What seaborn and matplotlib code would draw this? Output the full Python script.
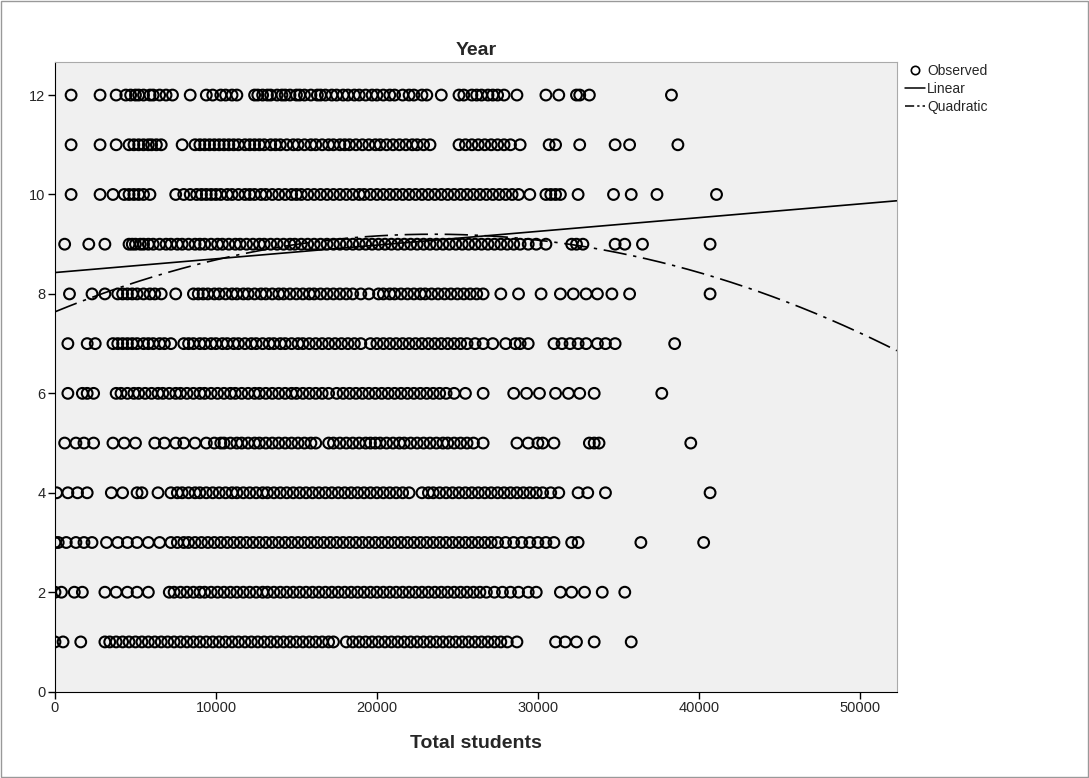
import numpy as np
import pandas as pd
import matplotlib
matplotlib.use("Agg")
import matplotlib.pyplot as plt
from matplotlib.lines import Line2D
from matplotlib.patches import Rectangle
import seaborn as sns

# Observed total students (thousands) per year
year1 = [0.0, 0.5, 1.6, 3.1, 3.4, 3.8, 4.2, 4.6, 5.0, 5.4, 5.8, 6.2, 6.6, 7.0, 7.4, 7.8, 8.2, 8.6, 9.0, 9.4, 9.8, 10.2, 10.6, 11.0, 11.4, 11.8, 12.2, 12.6, 13.0, 13.4, 13.8, 14.2, 14.6, 15.0, 15.4, 15.8, 16.2, 16.6, 17.0, 17.3, 18.1, 18.5, 18.9, 19.3, 19.7, 20.1, 20.5, 20.9, 21.3, 21.7, 22.1, 22.5, 22.9, 23.3, 23.7, 24.1, 24.5, 24.9, 25.3, 25.7, 26.1, 26.5, 26.9, 27.3, 27.7, 28.1, 28.7, 31.1, 31.7, 32.4, 33.5, 35.8]
year2 = [0.0, 0.4, 1.2, 1.7, 3.1, 3.8, 4.5, 5.1, 5.8, 7.1, 7.4, 7.8, 8.2, 8.6, 9.0, 9.3, 9.7, 10.1, 10.5, 10.9, 11.3, 11.7, 12.1, 12.5, 12.9, 13.2, 13.6, 14.0, 14.4, 14.8, 15.2, 15.6, 16.0, 16.4, 16.8, 17.2, 17.6, 18.0, 18.4, 18.8, 19.2, 19.6, 20.0, 20.4, 20.8, 21.2, 21.6, 22.0, 22.4, 22.8, 23.2, 23.6, 24.0, 24.4, 24.8, 25.2, 25.6, 26.0, 26.4, 26.8, 27.3, 27.8, 28.3, 28.8, 29.4, 29.9, 31.4, 32.1, 32.9, 34.0, 35.4]
year3 = [0.0, 0.2, 0.7, 1.3, 1.8, 2.3, 3.2, 3.9, 4.5, 5.1, 5.8, 6.5, 7.2, 7.6, 8.0, 8.3, 8.7, 9.1, 9.5, 9.9, 10.3, 10.7, 11.1, 11.5, 11.9, 12.3, 12.7, 13.1, 13.5, 13.9, 14.3, 14.7, 15.1, 15.5, 15.9, 16.3, 16.7, 17.1, 17.5, 17.9, 18.3, 18.7, 19.1, 19.5, 19.9, 20.3, 20.7, 21.1, 21.5, 21.9, 22.3, 22.7, 23.1, 23.5, 23.9, 24.3, 24.7, 25.1, 25.5, 25.9, 26.3, 26.7, 27.1, 27.5, 28.0, 28.5, 29.0, 29.5, 30.0, 30.5, 31.0, 32.1, 32.5, 36.4, 40.3]
year4 = [0.1, 0.8, 1.4, 2.0, 3.5, 4.2, 5.1, 5.4, 6.4, 7.2, 7.6, 7.9, 8.3, 8.7, 9.0, 9.4, 9.8, 10.2, 10.6, 11.0, 11.3, 11.7, 12.1, 12.5, 12.9, 13.2, 13.6, 14.0, 14.4, 14.8, 15.2, 15.6, 16.0, 16.4, 16.8, 17.2, 17.6, 18.0, 18.4, 18.8, 19.2, 19.6, 20.0, 20.4, 20.8, 21.2, 21.6, 22.0, 22.8, 23.2, 23.5, 23.9, 24.3, 24.7, 25.1, 25.5, 25.9, 26.3, 26.7, 27.1, 27.5, 27.9, 28.3, 28.7, 29.1, 29.5, 29.9, 30.3, 30.8, 31.3, 32.5, 33.1, 34.2, 40.7]
year5 = [0.6, 1.3, 1.8, 2.4, 3.6, 4.3, 5.0, 6.2, 6.8, 7.5, 8.0, 8.7, 9.4, 9.9, 10.3, 10.5, 10.9, 11.3, 11.6, 12.0, 12.4, 12.7, 13.1, 13.5, 13.9, 14.3, 14.7, 15.1, 15.5, 15.9, 16.2, 17.0, 17.3, 17.7, 18.1, 18.5, 18.9, 19.3, 19.6, 19.9, 20.2, 20.6, 21.0, 21.4, 21.7, 22.1, 22.5, 22.9, 23.3, 23.7, 24.1, 24.4, 24.8, 25.2, 25.6, 26.0, 26.6, 28.7, 29.4, 30.0, 30.3, 31.0, 33.2, 33.5, 33.8, 39.5]
year6 = [0.8, 1.7, 2.0, 2.4, 3.8, 4.1, 4.5, 4.9, 5.2, 5.6, 6.0, 6.4, 6.7, 7.1, 7.5, 7.8, 8.2, 8.6, 9.0, 9.3, 9.7, 10.1, 10.5, 10.9, 11.2, 11.6, 12.0, 12.4, 12.7, 13.1, 13.5, 13.9, 14.3, 14.7, 15.0, 15.4, 15.8, 16.2, 16.6, 17.0, 17.5, 17.9, 18.3, 18.7, 19.1, 19.5, 19.9, 20.3, 20.7, 21.1, 21.5, 21.9, 22.3, 22.7, 23.1, 23.5, 23.9, 24.3, 24.8, 25.5, 26.6, 28.5, 29.3, 30.1, 31.1, 31.9, 32.6, 33.5, 37.7]
year7 = [0.8, 2.0, 2.5, 3.6, 3.9, 4.2, 4.5, 4.8, 5.1, 5.5, 5.8, 6.1, 6.5, 6.8, 7.2, 8.0, 8.3, 8.6, 9.0, 9.3, 9.7, 10.0, 10.4, 10.7, 11.1, 11.4, 11.8, 12.2, 12.5, 12.9, 13.3, 13.6, 14.0, 14.3, 14.7, 15.1, 15.4, 15.8, 16.2, 16.6, 17.0, 17.4, 17.8, 18.2, 18.6, 19.0, 19.6, 20.0, 20.4, 20.8, 21.2, 21.6, 22.0, 22.4, 22.8, 23.2, 23.6, 24.0, 24.4, 24.8, 25.2, 25.6, 26.1, 26.6, 27.2, 28.0, 28.6, 28.9, 29.4, 31.0, 31.5, 32.0, 32.5, 33.0, 33.7, 34.2, 34.8, 38.5]
year8 = [0.9, 2.3, 3.1, 3.9, 4.2, 4.5, 4.8, 5.1, 5.5, 5.9, 6.2, 6.6, 7.5, 8.6, 8.9, 9.2, 9.5, 9.9, 10.2, 10.6, 11.0, 11.3, 11.7, 12.0, 12.4, 12.8, 13.1, 13.5, 13.9, 14.2, 14.6, 15.0, 15.4, 15.8, 16.1, 16.5, 16.9, 17.3, 17.7, 18.1, 18.5, 19.0, 19.5, 20.1, 20.4, 20.8, 21.1, 21.5, 21.9, 22.3, 22.7, 23.0, 23.4, 23.8, 24.2, 24.6, 25.0, 25.4, 25.8, 26.2, 26.6, 27.7, 28.8, 30.2, 31.4, 32.2, 33.0, 33.7, 34.6, 35.7, 40.7]
year9 = [0.6, 2.1, 3.1, 4.6, 4.8, 5.0, 5.3, 5.5, 5.8, 6.1, 6.5, 6.9, 7.2, 7.6, 7.9, 8.3, 8.7, 9.0, 9.3, 9.7, 10.1, 10.4, 10.8, 11.2, 11.5, 11.9, 12.3, 12.7, 13.0, 13.4, 13.8, 14.2, 14.6, 14.9, 15.3, 15.7, 16.1, 16.5, 16.9, 17.3, 17.7, 18.1, 18.5, 18.9, 19.3, 19.7, 20.1, 20.5, 20.9, 21.3, 21.7, 22.1, 22.5, 22.9, 23.3, 23.7, 24.1, 24.5, 24.9, 25.3, 25.7, 26.1, 26.5, 26.9, 27.3, 27.7, 28.1, 28.5, 28.9, 29.4, 29.9, 30.5, 32.1, 32.4, 32.8, 34.8, 35.4, 36.5, 40.7]
year10 = [1.0, 2.8, 3.6, 4.3, 4.6, 4.9, 5.2, 5.5, 5.9, 7.5, 8.0, 8.4, 8.8, 9.1, 9.4, 9.7, 10.0, 10.3, 10.7, 11.0, 11.4, 11.8, 12.1, 12.4, 12.8, 13.1, 13.5, 13.9, 14.3, 14.7, 15.0, 15.3, 15.7, 16.1, 16.5, 16.9, 17.3, 17.7, 18.1, 18.5, 18.9, 19.2, 19.6, 20.0, 20.4, 20.8, 21.2, 21.6, 22.0, 22.4, 22.8, 23.2, 23.6, 24.0, 24.4, 24.8, 25.2, 25.6, 26.0, 26.4, 26.8, 27.2, 27.6, 28.0, 28.4, 28.8, 29.5, 30.5, 30.8, 31.1, 31.4, 32.5, 34.7, 35.8, 37.4, 41.1]
year11 = [1.0, 2.8, 3.8, 4.6, 4.9, 5.2, 5.5, 5.8, 6.0, 6.3, 6.6, 7.9, 8.7, 9.0, 9.3, 9.6, 9.9, 10.2, 10.5, 10.8, 11.1, 11.4, 11.8, 12.1, 12.4, 12.7, 13.0, 13.4, 13.7, 14.0, 14.4, 14.8, 15.1, 15.5, 15.9, 16.2, 16.6, 17.0, 17.3, 17.7, 18.0, 18.3, 18.7, 19.1, 19.5, 19.9, 20.2, 20.6, 21.0, 21.4, 21.8, 22.2, 22.5, 22.9, 23.3, 25.1, 25.5, 25.9, 26.3, 26.7, 27.1, 27.5, 27.9, 28.3, 28.9, 30.7, 31.1, 32.6, 34.8, 35.7, 38.7]
year12 = [1.0, 2.8, 3.8, 4.4, 4.7, 5.0, 5.2, 5.5, 5.9, 6.1, 6.5, 6.9, 7.3, 8.4, 9.4, 9.8, 10.3, 10.6, 11.0, 11.3, 12.4, 12.6, 12.9, 13.2, 13.4, 13.8, 14.1, 14.3, 14.6, 15.0, 15.2, 15.5, 15.9, 16.3, 16.5, 16.8, 17.2, 17.5, 17.9, 18.2, 18.6, 18.9, 19.3, 19.7, 20.0, 20.4, 20.8, 21.1, 21.6, 22.0, 22.3, 22.8, 23.1, 24.0, 25.1, 25.4, 25.9, 26.2, 26.5, 26.9, 27.2, 27.5, 27.9, 28.7, 30.5, 31.3, 32.4, 32.6, 33.2, 38.3]

years = [1, 2, 3, 4, 5, 6, 7, 8, 9, 10, 11, 12]
observed = [year1, year2, year3, year4, year5, year6, year7, year8, year9, year10, year11, year12]

# Fitted curve coefficients (Year on Total students)
linear_coef = [8.43, 2.76e-5]
quadratic_coef = [7.64, 1.328e-4, -2.825e-9]

x_ticks = [0, 10000, 20000, 30000, 40000, 50000]
y_ticks = [0, 2, 4, 6, 8, 10, 12]

rows = []
for yr, vals in zip(years, observed):
    for v in vals:
        rows.append({"Total students": v * 1000, "Year": yr})
df = pd.DataFrame(rows)

sns.set_theme(style="white")
plt.rcParams['font.family'] = ['Liberation Sans', 'DejaVu Sans']

fig = plt.figure(figsize=(10.89, 7.78), dpi=100)
ax = fig.add_axes([0.0505, 0.111, 0.773, 0.809])
ax.set_facecolor("#f0f0f0")

sns.scatterplot(data=df, x="Total students", y="Year", ax=ax, marker="o",
                s=60, facecolors="none", edgecolor="black", linewidth=1.5,
                legend=False)

xmax = 52300
xs = np.linspace(0, xmax, 300)
lin = linear_coef[0] + linear_coef[1] * xs
quad = quadratic_coef[0] + quadratic_coef[1] * xs + quadratic_coef[2] * xs ** 2
sns.lineplot(x=xs, y=lin, ax=ax, color="black", linewidth=1.2)
sns.lineplot(x=xs, y=quad, ax=ax, color="black", linewidth=1.2,
             linestyle=(0, (14, 4, 2, 4)))

ax.set_xlim(0, xmax)
ax.set_ylim(0, 12.66)
ax.set_xticks(x_ticks)
ax.set_yticks(y_ticks)
ax.set_xticklabels([str(t) for t in x_ticks], fontsize=10.5)
ax.set_yticklabels([str(t) for t in y_ticks], fontsize=10.5)
ax.tick_params(axis="both", direction="out", length=5, width=1, color="black",
               bottom=True, left=True, pad=2)
for side in ["left", "bottom", "top", "right"]:
    ax.spines[side].set_visible(True)
    ax.spines[side].set_color("black")
    ax.spines[side].set_linewidth(0.8)
ax.spines["top"].set_color("#aaaaaa")
ax.spines["right"].set_color("#aaaaaa")

ax.set_title("Year", fontsize=14, fontweight="bold", pad=5)
ax.set_xlabel("Total students", fontsize=14, fontweight="bold", labelpad=14)
ax.set_ylabel("")

handles = [
    Line2D([], [], marker="o", linestyle="none", markerfacecolor="none",
           markeredgecolor="black", markeredgewidth=1.2, markersize=6,
           label="Observed"),
    Line2D([], [], color="black", linewidth=1.1, label="Linear"),
    Line2D([], [], color="black", linewidth=1.1, linestyle=(0, (6, 2, 1.5, 2)),
           label="Quadratic"),
]
fig.legend(handles=handles, loc="upper left", bbox_to_anchor=(0.826, 0.925),
           frameon=False, fontsize=10, handlelength=1.4, handletextpad=0.2,
           labelspacing=0.3, borderaxespad=0)

fig.patches.append(Rectangle((0.001, 0.001), 0.998, 0.998, transform=fig.transFigure,
                             fill=False, edgecolor="#999999", linewidth=1))

fig.savefig("out.png", dpi=100)
